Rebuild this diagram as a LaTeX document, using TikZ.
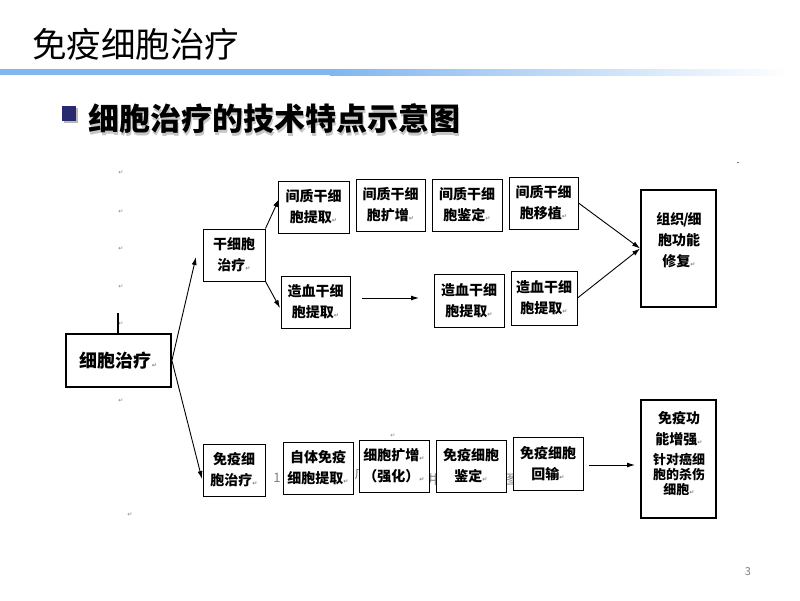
\documentclass[tikz,border=0pt]{standalone}
\usepackage{fontspec}
\setmainfont{Noto Sans CJK SC}
\newfontfamily\cjk{Noto Sans CJK SC}
\newfontfamily\djv{DejaVu Sans}
\usetikzlibrary{arrows.meta}
\definecolor{barblue}{RGB}{128,182,240}
\definecolor{navy}{RGB}{40,42,110}
\newcommand\retmark{{\djv\fontsize{6}{6}\selectfont\color{gray}↵}}
\begin{document}
\begin{tikzpicture}[x=1pt,y=-1pt,
  box/.style={draw,line width=1pt,fill=white,inner sep=0pt,align=center,
    font=\cjk\bfseries\fontsize{14}{21}\selectfont},
  bigbox/.style={draw,line width=1.8pt,fill=white,inner sep=0pt},
  txt/.style={inner sep=0pt,align=center,font=\cjk\bfseries\fontsize{14}{21}\selectfont},
  arr/.style={-{Latex[length=8pt,width=5pt]},line width=0.9pt},
  ret/.style={inner sep=0pt,font=\djv\fontsize{6}{6}\selectfont,text=gray},
  ghost/.style={inner sep=0pt,font=\cjk\fontsize{13}{13}\selectfont,text=gray}]
\useasboundingbox (0,0) rectangle (800,600);
\fill[white] (0,0) rectangle (800,600);
% header
\node[anchor=west,inner sep=0pt,font=\cjk\fontsize{34.5}{34.5}\selectfont] (title) at (32,44) {免疫细胞治疗};
\fill[barblue] (0,69) rectangle (330,75);
\shade[left color=barblue,right color=white] (329.5,69) rectangle (790,75);
\fill[gray!55] (64,108) rectangle (78,123);
\fill[navy] (62,106) rectangle (76,121);
\node[anchor=west,inner sep=0pt,font=\cjk\bfseries\fontsize{31}{31}\selectfont,text=gray!45] (subshadow) at (89.5,121.5) {细胞治疗的技术特点示意图};
\node[anchor=west,inner sep=0pt,font=\cjk\bfseries\fontsize{31}{31}\selectfont] (sub) at (88,119) {细胞治疗的技术特点示意图};
% stray marks
\foreach \yy in {173,212,249,287,324,401} \node[ret] at (121,\yy) {↵};
\node[ret] at (130,515) {↵};
\node[ret] at (393,436) {↵};
\node[inner sep=0pt,font=\fontsize{8}{8}\selectfont] at (738,164) {-};
\node[ghost] (g1) at (277,478) {1};
\node[ghost] (g2) at (361,474) {广};
\node[ghost] (g3) at (433,480) {井};
\node[ghost] (g4) at (511,480) {图};
% boxes
\node[bigbox,minimum width=105,minimum height=53,font=\cjk\bfseries\fontsize{18}{18}\selectfont] (main) at (118.5,360.5) {细胞治疗\retmark};
\node[box,minimum width=62,minimum height=52] (stem) at (234,255) {干细胞\\治疗\retmark};
\node[box,minimum width=71,minimum height=52] (m1) at (313.5,207) {间质干细\\胞提取\retmark};
\node[box,minimum width=69,minimum height=52] (m2) at (390.5,205) {间质干细\\胞扩增\retmark};
\node[box,minimum width=70,minimum height=52] (m3) at (467,205) {间质干细\\胞鉴定\retmark};
\node[box,minimum width=69,minimum height=52] (m4) at (543.5,203) {间质干细\\胞移植\retmark};
\node[box,minimum width=69,minimum height=52] (h1) at (315.5,302) {造血干细\\胞提取\retmark};
\node[box,minimum width=70,minimum height=53] (h2) at (469,300.5) {造血干细\\胞提取\retmark};
\node[box,minimum width=66,minimum height=54] (h3) at (544,298) {造血干细\\胞提取\retmark};
\node[bigbox,minimum width=75,minimum height=117] (rep) at (678.5,248.5) {};
\node[txt] (reptext) at (679,240) {组织\kern-1pt/\kern-1pt细\\胞功能\\修复\retmark};
\node[box,minimum width=62,minimum height=52] (imm) at (234,470) {免疫细\\胞治疗\retmark};
\node[box,minimum width=70,minimum height=52] (i1) at (318,468) {自体免疫\\细胞提取\retmark};
\node[box,minimum width=70,minimum height=52] (i2) at (394,466) {细胞扩增\retmark\\（强化）\retmark};
\node[box,minimum width=70,minimum height=52] (i3) at (471,466) {免疫细胞\\鉴定\retmark};
\node[box,minimum width=70,minimum height=53] (i4) at (548,463.5) {免疫细胞\\回输\retmark};
\node[bigbox,minimum width=75,minimum height=118] (imf) at (678.5,459) {};
\node[txt] (imftext1) at (679,429) {免疫功\\能增强\retmark};
\node[txt,font=\cjk\bfseries\fontsize{13}{15}\selectfont] (imftext2) at (679,474) {针对癌细\\胞的杀伤\\细胞\retmark};
% connectors
\coordinate (hmid) at (362,298);
\coordinate (hend) at (419,298);
\coordinate (iarr0) at (589,465);
\coordinate (iarr1) at (635,465);
\coordinate (tick) at (118,313);
\draw[line width=1.4pt] (tick) -- (main.north -| tick);
\draw[arr] (main.east) -- (196,257);
\draw[arr] (main.east) -- (202,479);
\draw[arr] (stem.north east) -- (279,199);
\draw[arr] (stem.south east) -- (280,308);
\draw[arr] (m4.east) -- (rep.west);
\draw[arr] (h3.east) -- (rep.west);
\draw[arr] (hmid) -- (hend);
\draw[arr] (iarr0) -- (iarr1);
\node[inner sep=0pt,font=\fontsize{11}{11}\selectfont,text=gray] (pg) at (748,572) {3};
\end{tikzpicture}
\end{document}
